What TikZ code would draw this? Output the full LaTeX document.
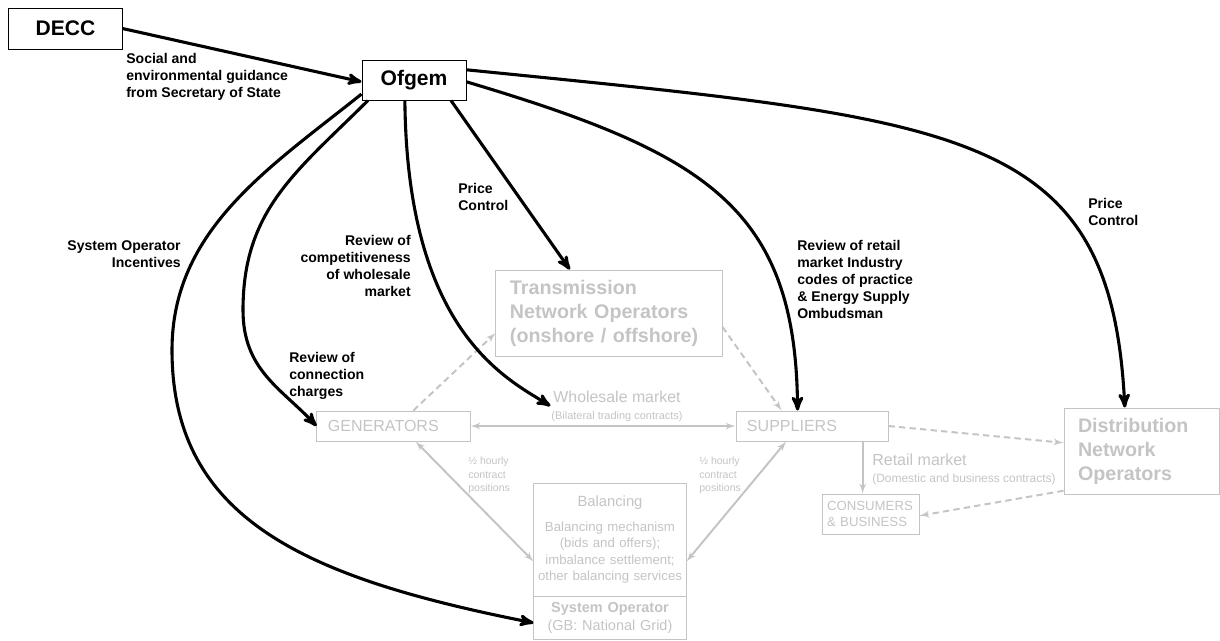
\documentclass[tikz,border=0pt]{standalone}
\usepackage{fontspec}
\setmainfont{Liberation Sans}
\usetikzlibrary{arrows, positioning}
\definecolor{faded}{RGB}{196,196,196}

\tikzset{
  topbox/.style={draw, line width=0.7pt, inner sep=0pt, font=\bfseries\fontsize{15}{18}\selectfont},
  greybox/.style={draw=faded, line width=0.7pt, text=faded, inner ysep=0pt},
  netbox/.style={greybox, align=left, inner xsep=0.35cm, minimum height=2.15cm, font=\bfseries\fontsize{14}{17}\selectfont},
  partybox/.style={greybox, align=left, inner xsep=0.275cm, minimum height=0.75cm, font=\fontsize{11.4}{13}\selectfont},
  lbl/.style={inner sep=0pt, font=\bfseries\fontsize{10}{12.1}\selectfont},
  greylbl/.style={inner sep=0pt, text=faded},
  reg/.style={line width=2.2pt},
  flow/.style={draw=faded, line width=1.4pt, >=latex'},
  cut/.style={dash pattern=on 4.5pt off 3pt}
}

\begin{document}
\begin{tikzpicture}[->, >=stealth', x=0.025cm, y=-0.025cm]
\useasboundingbox (0,0) rectangle (1220,640);

% regulators
\node [topbox, minimum width=2.825cm, minimum height=1.025cm] (decc) at (65.5,28.5) {DECC};
\node [topbox, minimum width=2.6cm, minimum height=1cm] (ofgem) at (414,80) {Ofgem};

% market participants
\node [netbox, text width=4.95cm] (tno) at (609,313) {Transmission\\Network Operators\\(onshore / offshore)};
\node [netbox, text width=3.175cm] (dno) at (1141.5,451) {Distribution\\Network\\Operators};
\node [partybox, text width=3.275cm] (gen) at (393.5,426) {GENERATORS};
\node [partybox, text width=3.25cm] (sup) at (812,426) {SUPPLIERS};
\node [greybox, align=left, inner xsep=0.125cm, text width=2.175cm, minimum height=1cm, font=\fontsize{9.4}{11.7}\selectfont] (cons) at (870.5,514) {CONSUMERS\\\& BUSINESS};
\node [greybox, align=center, text width=3.8cm, inner xsep=0pt, minimum height=2.825cm, font=\fontsize{9.4}{11.6}\selectfont] (bal) at (610,539.5) {{\fontsize{10.5}{11.6}\selectfont Balancing}\\[6pt]Balancing mechanism\\(bids and offers);\\imbalance settlement;\\other balancing services};
\node [greybox, align=center, text width=3.8cm, inner xsep=0pt, minimum height=1.075cm, font=\fontsize{10.3}{12.8}\selectfont] (so) at (610,617.5) {\textbf{System Operator}\\(GB: National Grid)};

% market labels
\node [greylbl, font=\fontsize{11.3}{13}\selectfont, inner sep=2pt] (wmtitle) at (617,397) {Wholesale market};
\node [greylbl, font=\fontsize{7.8}{9}\selectfont] (wmsub) at (617,417) {(Bilateral trading contracts)};
\node [greylbl, anchor=west, font=\fontsize{11.4}{13}\selectfont] (rmtitle) at (872,460) {Retail market};
\node [greylbl, anchor=west, font=\fontsize{8.5}{10}\selectfont] (rmsub) at (872,479) {(Domestic and business contracts)};
\node [greylbl, anchor=north west, align=left, font=\fontsize{7.5}{9.6}\selectfont] (hhgen) at (468,457) {½ hourly\\contract\\positions};
\node [greylbl, anchor=north west, align=left, font=\fontsize{7.5}{9.6}\selectfont] (hhsup) at (699,457) {½ hourly\\contract\\positions};

% regulation labels
\node [lbl, anchor=north west, align=left] (guide) at (126,53) {Social and\\environmental guidance\\from Secretary of State};
\node [lbl, anchor=north east, align=right] (soinc) at (181,240) {System Operator\\Incentives};
\node [lbl, anchor=north east, align=right] (wrev) at (411,235) {Review of\\competitiveness\\of wholesale\\market};
\node [lbl, anchor=north west, align=left] (conn) at (289,352) {Review of\\connection\\charges};
\node [lbl, anchor=north west, align=left] (tprice) at (458,183) {Price\\Control};
\node [lbl, anchor=north west, align=left] (rrev) at (797,240) {Review of retail\\market Industry\\codes of practice\\\& Energy Supply\\Ombudsman};
\node [lbl, anchor=north west, align=left] (dprice) at (1088,198) {Price\\Control};

% market flows
\draw [flow, cut] (gen.38) -- (tno.190);
\draw [flow, cut] (tno.-7) -- (sup.153);
\draw [flow, cut] (sup.east) -- (dno.174);
\draw [flow, cut] (dno.207) -- (cons.-2);
\draw [flow] (sup.-17) -- (sup.-17 |- cons.north);
\draw [flow, <->] (gen.east) -- (sup.west);
\draw [flow, <->] (gen.-35) -- (bal.196);
\draw [flow, <->] (sup.-149) -- (bal.-16);

% regulation
\draw [reg] (decc.east) -- (ofgem.-178);
\draw [reg] (ofgem.-165) .. controls (269,168) and (172,230) .. (172,350) .. controls (172,520) and (307,578) .. (so.-176);
\draw [reg] (ofgem.-156) .. controls (296,172) and (243,210) .. (243,310) .. controls (243,370) and (281,388) .. (gen.west);
\draw [reg] (ofgem.-114) .. controls (407,330) and (505,378) .. (wmtitle.south west);
\draw [reg] (ofgem.-29) -- (tno.132);
\draw [reg] (ofgem.-2) .. controls (705,153) and (796,207) .. (sup.133);
\draw [reg] (ofgem.11) .. controls (965,120) and (1111,127) .. (dno.111);
\end{tikzpicture}
\end{document}
